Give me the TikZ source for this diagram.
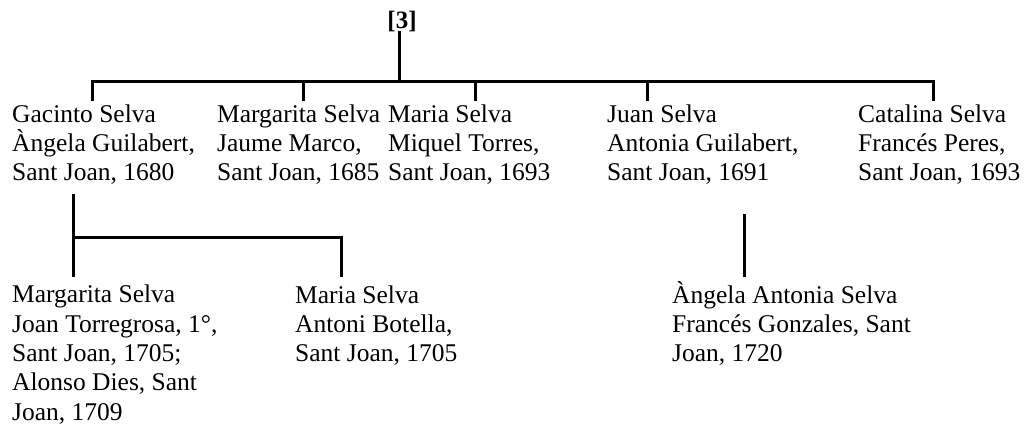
\documentclass[tikz,border=0pt]{standalone}
\usepackage{fontspec}
\setmainfont{Liberation Serif}
\begin{document}
\begin{tikzpicture}[x=1pt,y=-1pt,
  % multi-line nodes are anchored at the baseline of their last line
  person/.style={anchor=base west,inner sep=0pt,align=left,
    font=\fontsize{25.5}{29.3}\selectfont},
  link/.style={line width=3pt,line cap=rect}]
\useasboundingbox (0,0) rectangle (1027,433);

% root
\node[anchor=base,inner sep=0pt,font=\fontsize{25}{29}\selectfont\bfseries] (root) at (402,29) {[3]};

% first generation
\node[person] (g1) at (12,180.6)  {Gacinto Selva\\Àngela Guilabert,\\Sant Joan, 1680};
\node[person] (g2) at (217,180.6) {Margarita Selva\\Jaume Marco,\\Sant Joan, 1685};
\node[person] (g3) at (388,180.6) {Maria Selva\\Miquel Torres,\\Sant Joan, 1693};
\node[person] (g4) at (607,180.6) {Juan Selva\\Antonia Guilabert,\\Sant Joan, 1691};
\node[person] (g5) at (858,180.6) {Catalina Selva\\Francés Peres,\\Sant Joan, 1693};

% second generation
\node[person] (c1) at (12,420)  {Margarita Selva\\Joan Torregrosa, 1°,\\Sant Joan, 1705;\\Alonso Dies, Sant\\Joan, 1709};
\node[person] (c2) at (295,361.6) {Maria Selva\\Antoni Botella,\\Sant Joan, 1705};
\node[person] (c3) at (672,361.6) {Àngela Antonia Selva\\Francés Gonzales, Sant\\Joan, 1720};

% junction points
\coordinate (bar) at (399,82);
\coordinate (t1) at (92,100);
\coordinate (t2) at (303,100);
\coordinate (t3) at (475,100);
\coordinate (t4) at (647,100);
\coordinate (t5) at (933,100);
\coordinate (s1) at (73,195);
\coordinate (sbar) at (73,237);
\coordinate (b1) at (73,275);
\coordinate (b2) at (341,275);
\coordinate (s3) at (744,215);
\coordinate (b3) at (744,275);

% connectors
\draw[link] (bar) -- (bar |- root.south);
\draw[link] (t1) |- (bar) -| (t5);
\draw[link] (t2) -- (t2 |- bar);
\draw[link] (t3) -- (t3 |- bar);
\draw[link] (t4) -- (t4 |- bar);
\draw[link] (s1) -- (b1);
\draw[link] (sbar) -| (b2);
\draw[link] (s3) -- (b3);
\end{tikzpicture}
\end{document}
